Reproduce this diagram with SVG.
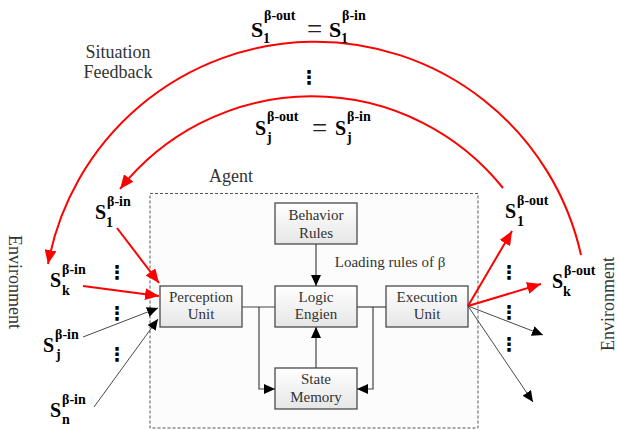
<svg xmlns="http://www.w3.org/2000/svg" width="617" height="430" viewBox="0 0 617 430">
  <style>
    .box { fill: url(#boxFill); stroke: #4a4a4a; stroke-width: 1.3; }
    .btxt { font-family: "Liberation Serif", "Times New Roman", serif; font-size: 15px; fill: #333; text-anchor: middle; }
    .lbl { font-family: "Liberation Serif", "Times New Roman", serif; font-size: 18px; fill: #333; }
    .S { font-family: "Liberation Serif", "Times New Roman", serif; font-weight: bold; font-size: 20px; fill: #000; }
    .Sbig { font-family: "Liberation Serif", "Times New Roman", serif; font-weight: bold; font-size: 22px; fill: #000; }
    .sup { font-family: "Liberation Serif", "Times New Roman", serif; font-weight: bold; font-size: 14px; fill: #000; }
    .eq { font-family: "Liberation Serif", "Times New Roman", serif; font-size: 27px; fill: #222; }
    .dots { font-family: "DejaVu Sans", sans-serif; font-weight: bold; font-size: 19px; fill: #000; text-anchor: middle; }
    .wire { fill: none; stroke: #444; stroke-width: 1.2; }
    .thin { fill: none; stroke: #333; stroke-width: 0.9; }
    .red { fill: none; stroke: #f00; stroke-width: 2; }
  </style>
  <defs>
    <linearGradient id="boxFill" x1="0" y1="0" x2="0" y2="1">
      <stop offset="0" stop-color="#ffffff"/>
      <stop offset="1" stop-color="#e6e6e6"/>
    </linearGradient>
    <marker id="arrBlack" markerUnits="userSpaceOnUse" markerWidth="12" markerHeight="10" refX="11" refY="5" orient="auto">
      <path d="M0,0 L11,5 L0,10 z" fill="#000"/>
    </marker>
    <marker id="arrRed" markerUnits="userSpaceOnUse" markerWidth="15" markerHeight="12" refX="14" refY="6" orient="auto">
      <path d="M0,0 L14,6 L0,12 z" fill="#f00"/>
    </marker>
  </defs>

  <rect width="617" height="430" fill="#fff"/>

  <!-- agent boundary -->
  <g id="agent">
    <rect x="150" y="193.5" width="328" height="234.5" fill="#fcfcfc" stroke="#555" stroke-width="1" stroke-dasharray="3,2"/>
    <text class="lbl" x="209" y="182">Agent</text>
  </g>

  <!-- internal units -->
  <g id="behavior-rules">
    <rect class="box" x="275" y="203" width="82" height="41"/>
    <text class="btxt" x="316" y="220">Behavior</text>
    <text class="btxt" x="316" y="238">Rules</text>
  </g>
  <g id="perception-unit">
    <rect class="box" x="160" y="286" width="82" height="41"/>
    <text class="btxt" x="201" y="302">Perception</text>
    <text class="btxt" x="201" y="319">Unit</text>
  </g>
  <g id="logic-engien">
    <rect class="box" x="275" y="286" width="82" height="41"/>
    <text class="btxt" x="316" y="302">Logic</text>
    <text class="btxt" x="316" y="319">Engien</text>
  </g>
  <g id="execution-unit">
    <rect class="box" x="386" y="286" width="82" height="41"/>
    <text class="btxt" x="427" y="302">Execution</text>
    <text class="btxt" x="427" y="319">Unit</text>
  </g>
  <g id="state-memory">
    <rect class="box" x="275" y="368" width="82" height="41"/>
    <text class="btxt" x="316" y="384">State</text>
    <text class="btxt" x="316" y="402">Memory</text>
  </g>

  <text class="btxt" x="390" y="267">Loading rules of  β</text>

  <!-- connectors -->
  <g id="connectors">
    <path class="wire" d="M242,307 H275"/>
    <path class="wire" d="M259,307 V389 H275" marker-end="url(#arrBlack)"/>
    <path class="wire" d="M386,307 H357"/>
    <path class="wire" d="M373,307 V389 H357" marker-end="url(#arrBlack)"/>
    <path class="wire" d="M316,244 V286" marker-end="url(#arrBlack)"/>
    <path class="wire" d="M316,368 V327" marker-end="url(#arrBlack)"/>

    <!-- inputs -->
    <path class="red" d="M117,228 L159,283" marker-end="url(#arrRed)"/>
    <path class="red" d="M83,286 L159,296" marker-end="url(#arrRed)"/>
    <path class="thin" d="M83,337 L158,308" marker-end="url(#arrBlack)"/>
    <path class="thin" d="M94,407 L158,319" marker-end="url(#arrBlack)"/>

    <!-- outputs -->
    <path class="red" d="M468,306 L512,231" marker-end="url(#arrRed)"/>
    <path class="red" d="M468,306 L541,284" marker-end="url(#arrRed)"/>
    <path class="thin" d="M468,306 L543,335" marker-end="url(#arrBlack)"/>
    <path class="thin" d="M468,306 L533,402" marker-end="url(#arrBlack)"/>

    <!-- situation feedback loops -->
    <path class="red" d="M581,255 A272,272 0 0 0 48,264" marker-end="url(#arrRed)"/>
    <path class="red" d="M503,188 A245,245 0 0 0 120,189" marker-end="url(#arrRed)"/>
  </g>

  <!-- feedback labels -->
  <g id="feedback">
    <text class="lbl" x="118" y="58" text-anchor="middle">Situation</text>
    <text class="lbl" x="118" y="78" text-anchor="middle">Feedback</text>

    <text class="Sbig" x="251" y="37">S</text>
    <text class="sup" x="264" y="20">β-out</text>
    <text class="sup" x="263" y="43">1</text>
    <text class="eq" x="307" y="38">=</text>
    <text class="Sbig" x="329" y="37">S</text>
    <text class="sup" x="342" y="20">β-in</text>
    <text class="sup" x="341" y="43">1</text>

    <text class="dots" x="309" y="84">⋮</text>

    <text class="S" x="255" y="135">S</text>
    <text class="sup" x="267" y="121">β-out</text>
    <text class="sup" x="267" y="142">j</text>
    <text class="eq" x="312" y="137">=</text>
    <text class="S" x="335" y="135">S</text>
    <text class="sup" x="347" y="121">β-in</text>
    <text class="sup" x="347" y="142">j</text>
  </g>

  <!-- environment inputs -->
  <g id="inputs">
    <text class="lbl" transform="translate(9,235) rotate(90)">Environment</text>

    <text class="S" x="95" y="219">S</text>
    <text class="sup" x="107" y="206">β-in</text>
    <text class="sup" x="106" y="227">1</text>

    <text class="S" x="50" y="287">S</text>
    <text class="sup" x="62" y="274">β-in</text>
    <text class="sup" x="62" y="295">k</text>

    <text class="S" x="43" y="352">S</text>
    <text class="sup" x="55" y="339">β-in</text>
    <text class="sup" x="56" y="359">j</text>

    <text class="S" x="50" y="417">S</text>
    <text class="sup" x="62" y="404">β-in</text>
    <text class="sup" x="62" y="424">n</text>

    <text class="dots" x="117" y="279">⋮</text>
    <text class="dots" x="117" y="320">⋮</text>
    <text class="dots" x="117" y="361">⋮</text>
  </g>

  <!-- environment outputs -->
  <g id="outputs">
    <text class="lbl" transform="translate(614,351) rotate(-90)">Environment</text>

    <text class="S" x="505" y="218">S</text>
    <text class="sup" x="517" y="205">β-out</text>
    <text class="sup" x="517" y="226">1</text>

    <text class="S" x="552" y="288">S</text>
    <text class="sup" x="564" y="275">β-out</text>
    <text class="sup" x="563" y="296">k</text>

    <text class="dots" x="509" y="279">⋮</text>
    <text class="dots" x="509" y="319">⋮</text>
    <text class="dots" x="509" y="351">⋮</text>
  </g>
</svg>
